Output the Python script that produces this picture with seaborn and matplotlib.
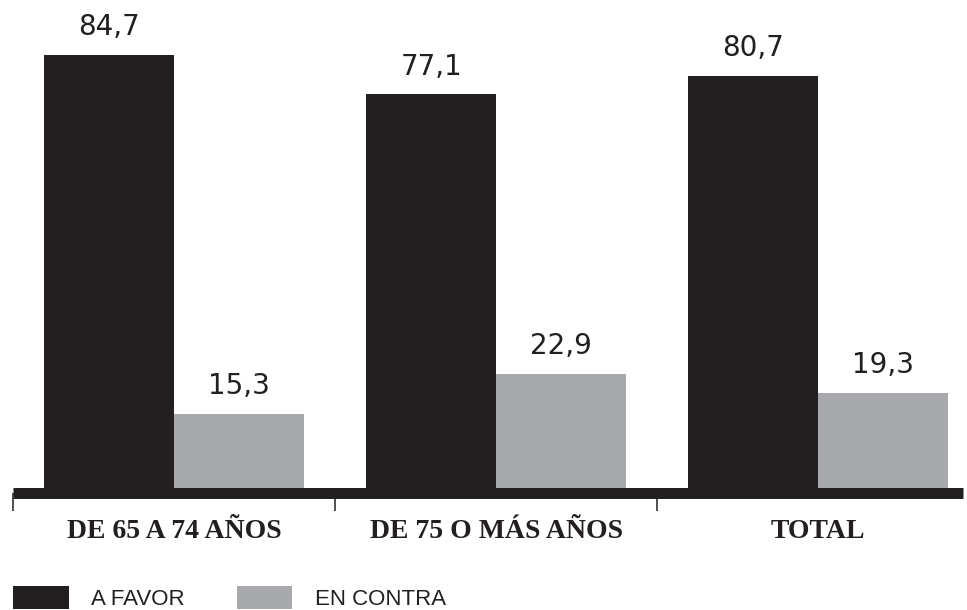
import numpy as np
import pandas as pd
import matplotlib
matplotlib.use("Agg")
import matplotlib.pyplot as plt
import seaborn as sns
from matplotlib.patches import Patch
from matplotlib.ticker import FixedLocator

CATEGORIES = ["DE 65 A 74 AÑOS", "DE 75 O MÁS AÑOS", "TOTAL"]
SERIES = ["A FAVOR", "EN CONTRA"]
A_FAVOR = [84.7, 77.1, 80.7]
EN_CONTRA = [15.3, 22.9, 19.3]

BLACK = "#231f20"
GREY = "#a7a9ac"

df = pd.DataFrame({
    "grupo": CATEGORIES * 2,
    "opinion": [SERIES[0]] * 3 + [SERIES[1]] * 3,
    "pct": A_FAVOR + EN_CONTRA,
})

sns.set_theme(style="white")
plt.rcParams["font.family"] = ["Liberation Sans", "DejaVu Sans"]

fig = plt.figure(figsize=(9.67, 6.10), dpi=100)
ax = fig.add_axes([13 / 967, 1 - 492.5 / 610, 950 / 967, 492.5 / 610])

sns.barplot(data=df, x="grupo", y="pct", hue="opinion", order=CATEGORIES,
            hue_order=SERIES, palette=[BLACK, GREY], width=0.805,
            saturation=1, legend=False, linewidth=0, ax=ax)

for cont in ax.containers:
    labels = [f"{v:.1f}".replace(".", ",") for v in cont.datavalues]
    ax.bar_label(cont, labels=labels, padding=10, fontsize=20, color=BLACK,
                 fontfamily="DejaVu Sans")

ax.set_xlim(-0.5, 2.45)
ax.set_ylim(0, 95.4)
ax.set_xlabel("")
ax.set_ylabel("")
ax.set_yticks([])
for s in ["top", "right", "left"]:
    ax.spines[s].set_visible(False)
ax.spines["bottom"].set_linewidth(7.9)
ax.spines["bottom"].set_color(BLACK)
ax.spines["bottom"].set_capstyle("butt")

ax.xaxis.set_minor_locator(FixedLocator([-0.5, 0.5, 1.5]))
ax.tick_params(axis="x", which="major", length=0, pad=19)
ax.tick_params(axis="x", which="minor", length=12.6, width=1.1, color=BLACK,
               direction="out", bottom=True)
for lab in ax.get_xticklabels():
    lab.set_fontfamily("Liberation Serif")
    lab.set_fontweight("bold")
    lab.set_fontsize(20)
    lab.set_color(BLACK)

handles = [Patch(facecolor=BLACK, edgecolor="none"),
           Patch(facecolor=GREY, edgecolor="none")]
fig.legend(handles, SERIES, loc="lower left", bbox_to_anchor=(-0.007, -0.033),
           ncol=2, frameon=False, fontsize=16, handlelength=2.5,
           handleheight=1.2, handletextpad=1.0, columnspacing=2.35,
           labelcolor=BLACK)

fig.savefig("out.png", dpi=100)
